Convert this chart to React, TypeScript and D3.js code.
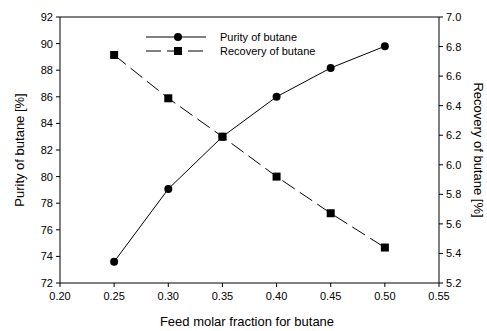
import React from "react";
import * as d3 from "d3";

const feed = [0.25, 0.3, 0.35, 0.4, 0.45, 0.5];
const purity = [73.6, 79.07, 83.0, 86.0, 88.17, 89.8];
const recovery = [6.743, 6.45, 6.19, 5.92, 5.672, 5.44];
const xTicks = [0.2, 0.25, 0.3, 0.35, 0.4, 0.45, 0.5, 0.55];
const yLeftTicks = [72, 74, 76, 78, 80, 82, 84, 86, 88, 90, 92];
const yRightTicks = [5.2, 5.4, 5.6, 5.8, 6.0, 6.2, 6.4, 6.6, 6.8, 7.0];
const legendLabels = ["Purity of butane", "Recovery of butane"];

export default function App() {
  const W = 487, H = 331;
  const L = 60, R = 439, T = 17, B = 283;
  const x = d3.scaleLinear().domain([0.2, 0.55]).range([L, R]);
  const yL = d3.scaleLinear().domain([72, 92]).range([B, T]);
  const yR = d3.scaleLinear().domain([5.2, 7.0]).range([B, T]);
  const font = "Liberation Sans, Arial, sans-serif";
  const lineP = d3.line<number>().x((_, i) => x(feed[i])).y((d) => yL(d))(purity) || "";
  const lineR = d3.line<number>().x((_, i) => x(feed[i])).y((d) => yR(d))(recovery) || "";
  return (
    <svg width={W} height={H} style={{ position: "absolute", left: 0, top: 0 }} fontFamily={font}>
      <rect width={W} height={H} fill="#fff" />
      <line x1={L} x2={R} y1={T} y2={T} stroke="#000" strokeWidth={1} />
      <line x1={L} x2={R} y1={B} y2={B} stroke="#000" strokeWidth={1} />
      <line x1={L} x2={L} y1={T} y2={B} stroke="#000" strokeWidth={1} />
      <line x1={R} x2={R} y1={T} y2={B} stroke="#000" strokeWidth={1} />
      {xTicks.map((t) => (
        <g key={"x" + t}>
          <line x1={x(t)} x2={x(t)} y1={B} y2={B + 4} stroke="#000" />
          <text x={x(t)} y={B + 17} fontSize={11} textAnchor="middle" fill="#000">{t.toFixed(2)}</text>
        </g>
      ))}
      {yLeftTicks.map((t) => (
        <g key={"yl" + t}>
          <line x1={L - 4} x2={L} y1={yL(t)} y2={yL(t)} stroke="#000" />
          <text x={L - 7} y={yL(t) + 4} fontSize={11} textAnchor="end" fill="#000">{t}</text>
        </g>
      ))}
      {yRightTicks.map((t) => (
        <g key={"yr" + t}>
          <line x1={R} x2={R + 4} y1={yR(t)} y2={yR(t)} stroke="#000" />
          <text x={R + 7} y={yR(t) + 4} fontSize={11} textAnchor="start" fill="#000">{t.toFixed(1)}</text>
        </g>
      ))}
      <text x={247} y={326} fontSize={13} textAnchor="middle" fill="#000">Feed molar fraction for butane</text>
      <text transform={`translate(24,${(T + B) / 2}) rotate(-90)`} fontSize={13} textAnchor="middle" fill="#000">Purity of butane [%]</text>
      <text transform={`translate(474,${(T + B) / 2}) rotate(90)`} fontSize={13} textAnchor="middle" fill="#000">Recovery of butane [%]</text>
      <path d={lineP} fill="none" stroke="#000" strokeWidth={1} />
      <path d={lineR} fill="none" stroke="#000" strokeWidth={1} strokeDasharray="15,6" />
      {purity.map((v, i) => (
        <circle key={"p" + i} cx={x(feed[i])} cy={yL(v)} r={4} fill="#000" />
      ))}
      {recovery.map((v, i) => (
        <rect key={"r" + i} x={x(feed[i]) - 4} y={yR(v) - 4} width={8} height={8} fill="#000" />
      ))}
      <line x1={146} x2={206} y1={37} y2={37} stroke="#000" />
      <circle cx={178} cy={37} r={4} fill="#000" />
      <text x={220} y={41} fontSize={11} fill="#000">{legendLabels[0]}</text>
      <line x1={146} x2={206} y1={51} y2={51} stroke="#000" strokeDasharray="15,6" />
      <rect x={174} y={47} width={8} height={8} fill="#000" />
      <text x={220} y={55} fontSize={11} fill="#000">{legendLabels[1]}</text>
    </svg>
  );
}
